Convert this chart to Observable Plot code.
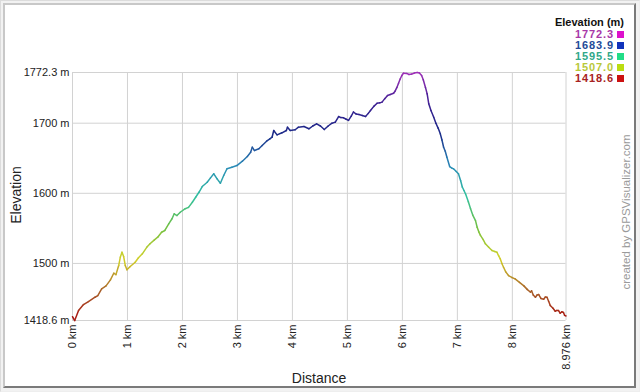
<!DOCTYPE html>
<html>
<head>
<meta charset="utf-8">
<script src="https://cdn.jsdelivr.net/npm/d3@7"></script>
<script src="https://cdn.jsdelivr.net/npm/@observablehq/plot@0.6"></script>
<style>
  html, body { margin: 0; padding: 0; background: #fff; }
  #wrap { position: relative; width: 640px; height: 392px; overflow: hidden; font-family: "Liberation Sans", Arial, sans-serif; background: #f2f2f2; }
  #outer { position: absolute; left: 0; top: 0; width: 638px; height: 390px; border: 1px solid #dcdcdc; border-right-color: #eee; border-bottom-color: #eee; }
  #inner { position: absolute; left: 3px; top: 3px; width: 629px; height: 381px; background: #fff;
           border-top: 2px solid #c8c8c8; border-left: 2px solid #c8c8c8; border-right: 2px solid #7a7a7a; border-bottom: 2px solid #7a7a7a; }
  #chart { position: absolute; left: 0; top: 0; }
  .lbl { position: absolute; color: #222; white-space: nowrap; }
  #legend { position: absolute; right: 16px; top: 16px; text-align: right; font-weight: bold; font-size: 11px; }
  #legend .t { color: #111; height: 13px; line-height: 13px; }
  #legend .r { height: 11px; line-height: 11px; letter-spacing: 0.9px; }
  #legend .sw { display: inline-block; width: 7px; height: 7px; margin-left: 3px; vertical-align: -0px; }
</style>
</head>
<body>
<div id="wrap">
  <div id="outer"></div>
  <div id="inner"></div>
  <div id="chart"></div>
  <div class="lbl" style="left:16px; top:195px; font-size:14px; transform: translate(-50%,-50%) rotate(-90deg);">Elevation</div>
  <div class="lbl" style="left:319px; top:378px; font-size:14px; transform: translate(-50%,-50%);">Distance</div>
  <div class="lbl" style="left:626px; top:212px; font-size:11.5px; color:#9a9a9a; transform: translate(-50%,-50%) rotate(-90deg);">created by GPSVisualizer.com</div>
  <div id="legend"></div>
</div>
<script>
// Track profile: distance (km) and elevation (m)
const distKm = [
  0.00, 0.04, 0.11, 0.20, 0.29, 0.41, 0.46, 0.53, 0.61, 0.69, 0.75, 0.79, 0.84, 0.87, 0.90, 0.93, 0.96, 0.99,
  1.05, 1.14, 1.20, 1.27, 1.35, 1.41, 1.49, 1.55, 1.62, 1.68, 1.75, 1.81, 1.85, 1.90, 1.96, 2.05, 2.11,
  2.18, 2.24, 2.30, 2.36, 2.45, 2.51, 2.57, 2.63, 2.69, 2.75, 2.81, 2.90, 2.99, 3.09, 3.18, 3.24, 3.27,
  3.31, 3.39, 3.45, 3.53, 3.59, 3.63, 3.66, 3.72, 3.81, 3.89, 3.91, 3.96, 4.05, 4.11, 4.21, 4.30,
  4.37, 4.44, 4.51, 4.58, 4.65, 4.72, 4.78, 4.84, 4.88, 4.93, 4.97, 5.02, 5.07, 5.11, 5.16, 5.21, 5.27,
  5.33, 5.38, 5.42, 5.48, 5.54, 5.59, 5.63, 5.68, 5.73, 5.78, 5.84, 5.87, 5.90, 5.93, 5.96, 5.99, 6.02,
  6.08, 6.12, 6.17, 6.22, 6.27, 6.31, 6.35, 6.38, 6.42, 6.45, 6.48, 6.52, 6.57, 6.61, 6.65, 6.69, 6.72,
  6.75, 6.78, 6.81, 6.86, 6.90, 6.93, 6.98, 7.02, 7.06, 7.09, 7.12, 7.15, 7.20, 7.24, 7.28, 7.33, 7.36,
  7.39, 7.42, 7.47, 7.51, 7.57, 7.63, 7.68, 7.72, 7.75, 7.78, 7.81, 7.84, 7.88, 7.93, 7.99, 8.05, 8.13,
  8.21, 8.27, 8.33, 8.35, 8.38, 8.42, 8.45, 8.48, 8.52, 8.57, 8.60, 8.63, 8.66, 8.69, 8.74, 8.78, 8.81,
  8.84, 8.87, 8.90, 8.93, 8.95, 8.976
];
const elevM = [
  1424, 1418.6, 1432.8, 1441.3, 1445.6, 1451.8, 1454, 1463.7, 1468, 1476.6, 1486, 1484, 1497, 1509, 1516, 1510, 1497, 1491,
  1495.6, 1501.7, 1508, 1513.7, 1523, 1528, 1533.6, 1537.4, 1544.5, 1547, 1556.5, 1563.7, 1570.8, 1568.3, 1573, 1578, 1580,
  1587.3, 1594.4, 1601.5, 1609.7, 1615.8, 1622, 1627.8, 1620.6, 1614.4, 1625.4, 1635, 1637.2, 1639.6, 1645.8, 1652.5, 1658.6, 1665.8,
  1661, 1663.5, 1668.2, 1674.3, 1677.7, 1680, 1689.6, 1683.4, 1686.3, 1689.6, 1694.3, 1689.6, 1690.6, 1694.3, 1695.3, 1692,
  1696, 1699, 1696, 1691, 1696, 1700, 1701.5, 1709.5, 1708, 1707.7, 1706, 1704, 1710, 1716, 1713, 1712.4, 1711,
  1709.5, 1714, 1718, 1724, 1728.5, 1729, 1730, 1735, 1739.5, 1741, 1742.8, 1746, 1751, 1757, 1763, 1768, 1771.3,
  1771, 1769.5, 1770, 1771.5, 1772.3, 1771.5, 1768, 1762, 1751, 1742, 1727.6, 1718, 1708.5, 1700, 1693, 1684.8, 1676,
  1665.7, 1660, 1651.5, 1638.2, 1636, 1634.9, 1631, 1627.8, 1618, 1609, 1604, 1599, 1588, 1578, 1569, 1561, 1551.6,
  1545, 1540, 1534, 1528, 1523, 1518.4, 1517, 1516, 1511, 1506.5, 1500, 1494.6, 1488, 1482.7, 1480, 1478, 1473,
  1468, 1463, 1458.9, 1461, 1455, 1451.7, 1455, 1455.6, 1450, 1449, 1452, 1451.7, 1446, 1440, 1436, 1431.8, 1433,
  1432.8, 1429, 1431, 1430, 1426, 1425
];

const xTicks = [0, 1, 2, 3, 4, 5, 6, 7, 8, 8.976];
const yTicks = [1418.6, 1500, 1600, 1700, 1772.3];

const colorDomain = [1418.6, 1460, 1507, 1550, 1595.5, 1640, 1683.9, 1728, 1772.3];
const colorRange = ["#a81010", "#a8602a", "#d2d22a", "#74c040", "#30c0a0", "#2a8ab8", "#1a2a88", "#3c2092", "#a030b8"];

const legendValues = ["1772.3", "1683.9", "1595.5", "1507.0", "1418.6"];
const legendText = ["#a838a8", "#234a98", "#30a888", "#b8c838", "#a82222"];
const legendSwatch = ["#dd11cc", "#1133bb", "#22dd88", "#bbdd11", "#cc1111"];

const segs = [];
for (let i = 0; i < distKm.length - 1; i++) {
  segs.push({x1: distKm[i], y1: elevM[i], x2: distKm[i + 1], y2: elevM[i + 1], e: (elevM[i] + elevM[i + 1]) / 2});
}

const chart = Plot.plot({
  width: 640,
  height: 392,
  marginLeft: 72,
  marginRight: 74.5,
  marginTop: 72,
  marginBottom: 72,
  style: {fontFamily: "'Liberation Sans', Arial, sans-serif", fontSize: "11px", color: "#222", background: "transparent", overflow: "visible"},
  x: {domain: [0, 8.976]},
  y: {domain: [1418.6, 1772.3]},
  color: {type: "linear", domain: colorDomain, range: colorRange, interpolate: "rgb"},
  marks: [
    Plot.gridX(xTicks, {stroke: "#d2d2d2", strokeOpacity: 1}),
    Plot.gridY(yTicks, {stroke: "#d2d2d2", strokeOpacity: 1}),
    Plot.axisX(xTicks, {tickFormat: d => `${d} km`, tickRotate: -90, tickSize: 0, tickPadding: 4, label: null}),
    Plot.axisY(yTicks, {tickFormat: d => `${d} m`, tickSize: 0, tickPadding: 3, label: null}),
    Plot.link(segs, {x1: "x1", y1: "y1", x2: "x2", y2: "y2", stroke: "e", strokeWidth: 1.5, strokeLinecap: "round"})
  ]
});
document.getElementById("chart").appendChild(chart);

const lg = document.getElementById("legend");
const t = document.createElement("div");
t.className = "t";
t.textContent = "Elevation (m)";
lg.appendChild(t);
legendValues.forEach((v, i) => {
  const r = document.createElement("div");
  r.className = "r";
  r.style.color = legendText[i];
  r.innerHTML = `<span>${v}</span><span class="sw" style="background:${legendSwatch[i]}"></span>`;
  lg.appendChild(r);
});
</script>
</body>
</html>
